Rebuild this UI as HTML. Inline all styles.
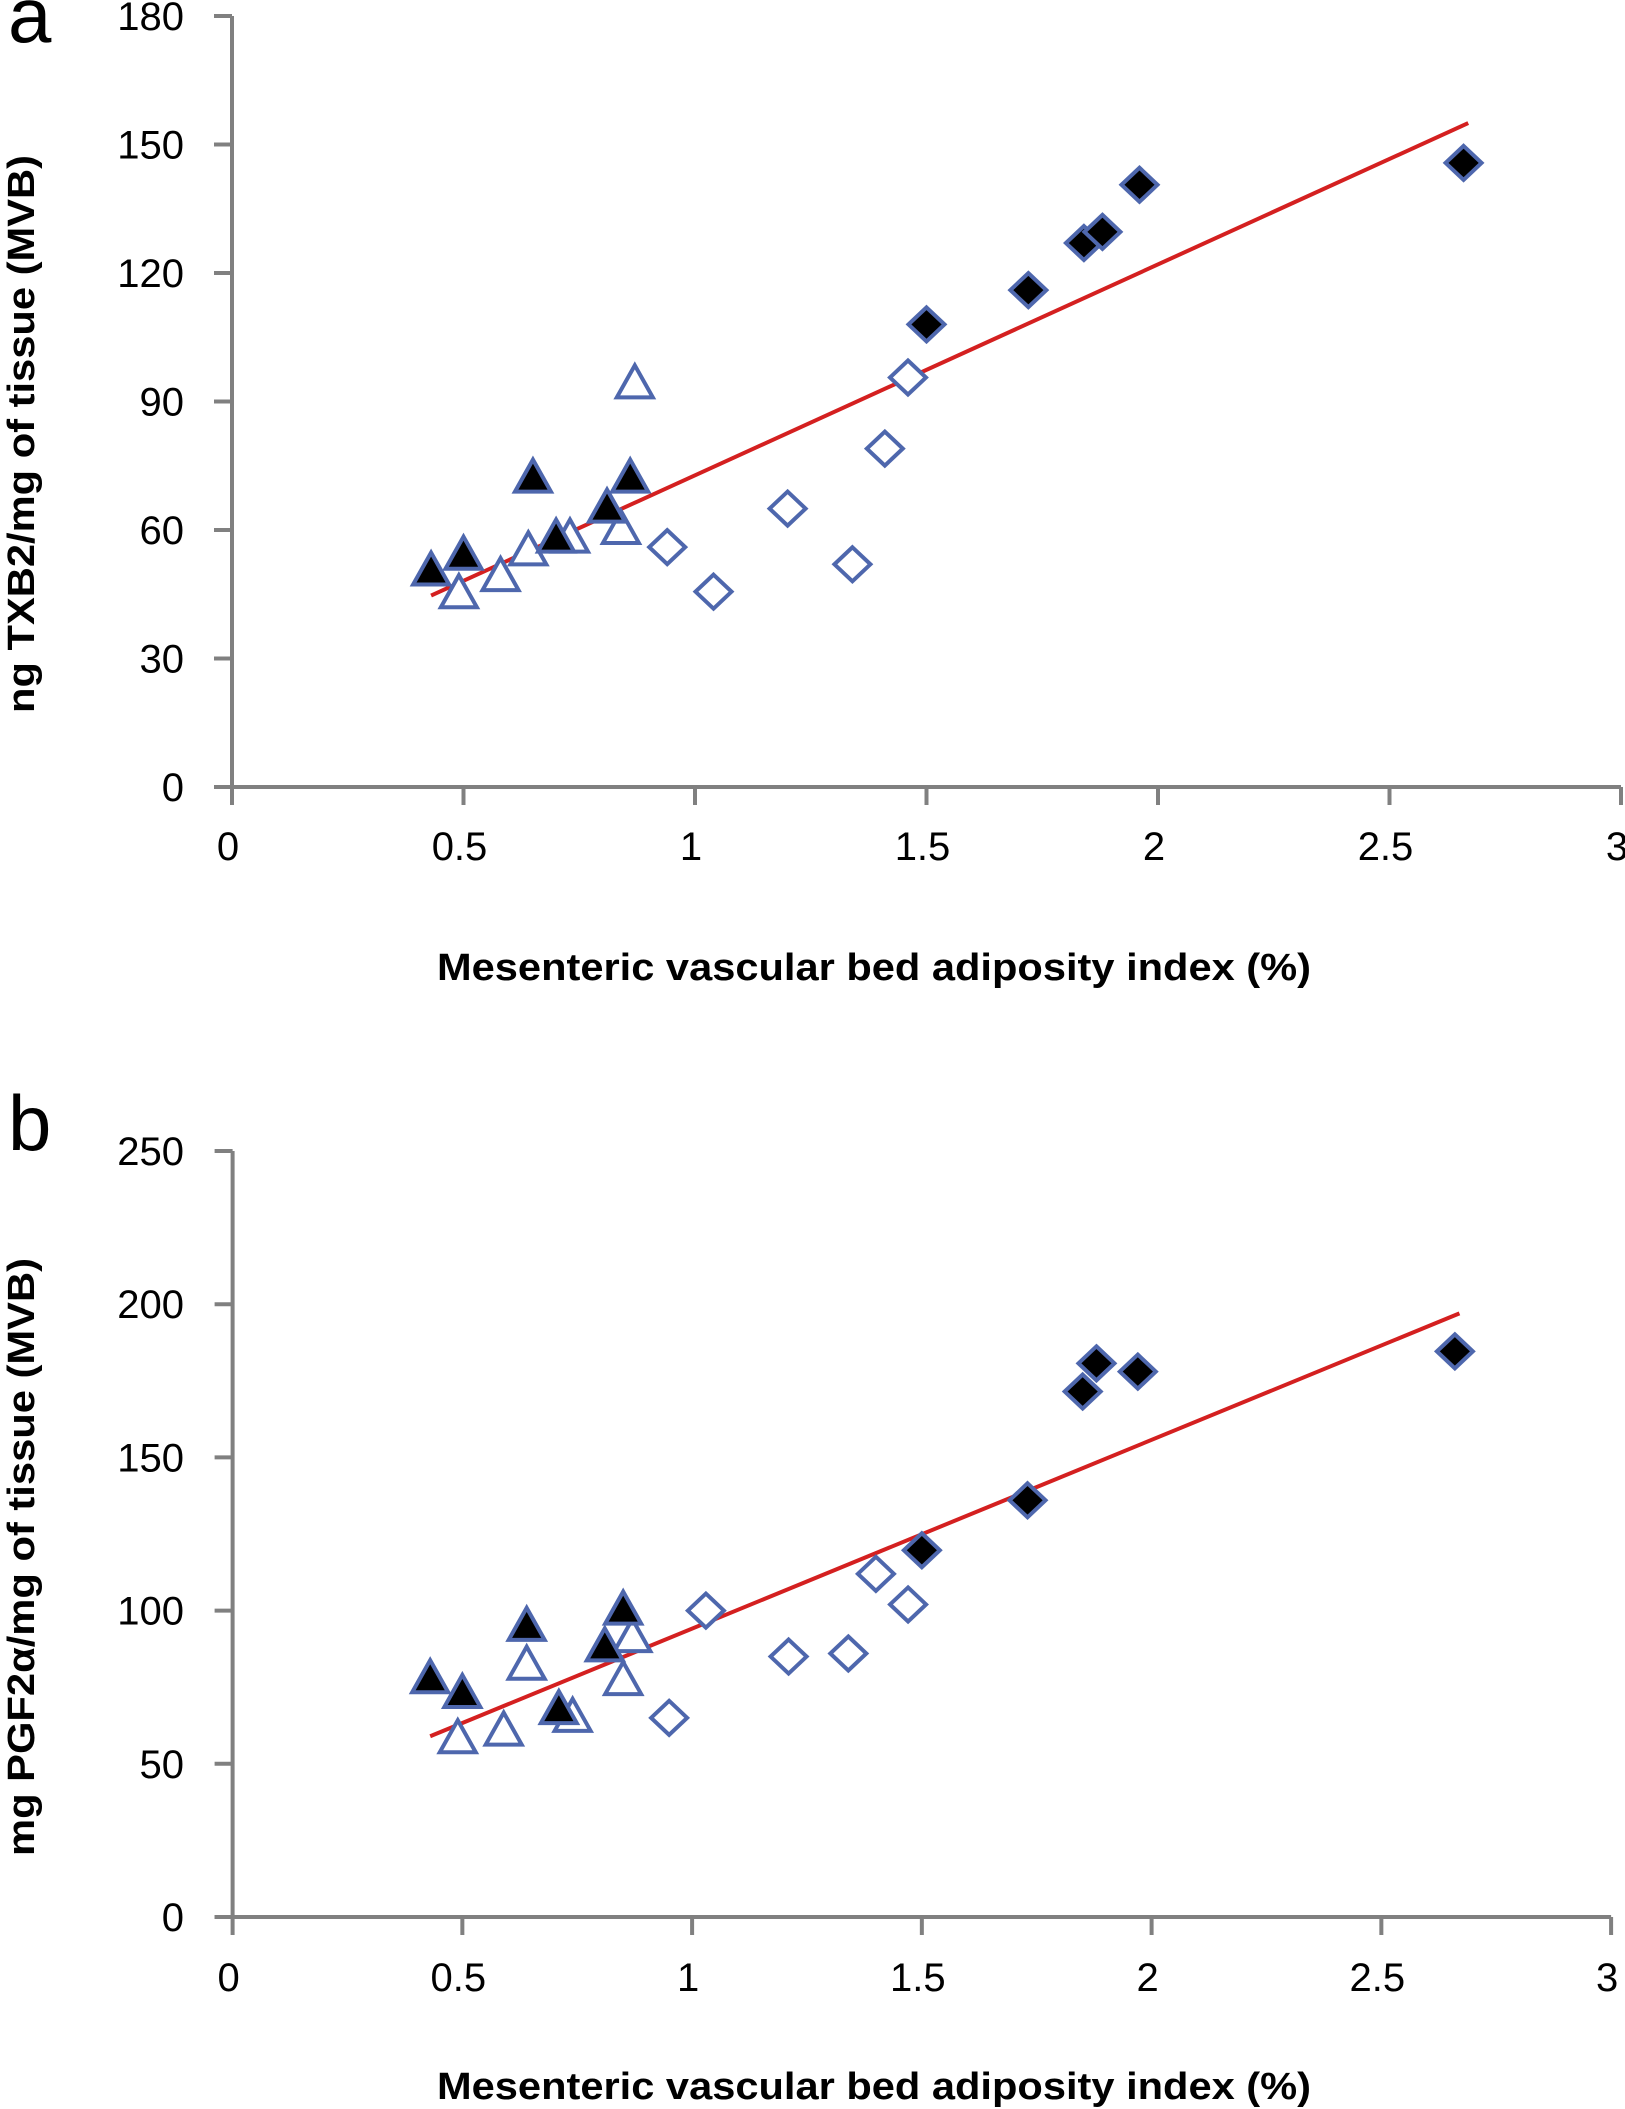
<!DOCTYPE html>
<html><head><meta charset="utf-8"><style>
html,body{margin:0;padding:0;background:#fff}
svg{display:block}
text{font-family:"Liberation Sans",sans-serif}
</style></head><body>
<svg id="chart" width="1625" height="2109" viewBox="0 0 1625 2109" xmlns="http://www.w3.org/2000/svg"></svg>
<script>
// Panel a data
const aFilledTriX=[0.43,0.50,0.65,0.70,0.81,0.86];
const aFilledTriY=[50.3,54,72,58,65,72];
const aOpenTriX=[0.49,0.58,0.64,0.73,0.84,0.87];
const aOpenTriY=[45,49,55,58,60,94];
const aOpenDiaX=[0.94,1.04,1.20,1.34,1.41,1.46];
const aOpenDiaY=[56,45.6,65,52,79,95.6];
const aFilledDiaX=[1.50,1.72,1.84,1.88,1.96,2.66];
const aFilledDiaY=[108,116,127,129.6,140.6,145.7];
const aTrendX=[0.43,2.67];
const aTrendY=[44.7,155];
const aYTicks=[0,30,60,90,120,150,180];
// Panel b data
const bFilledTriX=[0.43,0.50,0.64,0.71,0.81,0.85];
const bFilledTriY=[77.6,72.8,94.7,67.5,88,100];
const bOpenTriX=[0.49,0.59,0.64,0.74,0.85,0.87];
const bOpenTriY=[58,60.5,82,65,77,91];
const bOpenDiaX=[0.95,1.03,1.21,1.34,1.40,1.47];
const bOpenDiaY=[65,100,85,86,112,102];
const bFilledDiaX=[1.50,1.73,1.85,1.88,1.97,2.66];
const bFilledDiaY=[119.7,136,171.5,180.7,178,184.6];
const bTrendX=[0.43,2.67];
const bTrendY=[59,197];
const bYTicks=[0,50,100,150,200,250];
const xTicks=[0,0.5,1,1.5,2,2.5,3];
const xTickLabels=["0","0.5","1","1.5","2","2.5","3"];

const NS="http://www.w3.org/2000/svg";
const svg=document.getElementById('chart');
function mk(tag,attrs,parent){const e=document.createElementNS(NS,tag);for(const k in attrs)e.setAttribute(k,attrs[k]);(parent||svg).appendChild(e);return e;}
const BLUE="#4e67ad", GRAY="#808080";

function panel(cfg){
  const g=mk('g',{});
  
  
  const sx=v=>cfg.x0+v*cfg.xUnit;
  const sy=v=>cfg.y0-(v/cfg.yMax)*(cfg.y0-cfg.yTop);
  // axes
  const ya=mk('line',{x1:sx(0),y1:sy(cfg.yMax),x2:sx(0),y2:sy(0),stroke:GRAY,'stroke-width':4},g);
  
  
  const xa=mk('line',{x1:sx(0)-18,y1:sy(0),x2:sx(3),y2:sy(0),stroke:GRAY,'stroke-width':4},g);
  
  
  cfg.yTicks.forEach(t=>{
    mk('line',{x1:sx(0)-18,y1:sy(t),x2:sx(0),y2:sy(t),stroke:GRAY,'stroke-width':4},g);
    const tx=mk('text',{x:184,y:sy(t)+14,'text-anchor':'end','font-size':40,fill:'#000'},g);
    tx.textContent=String(t);
    
    
  });
  xTicks.forEach((t,i)=>{
    mk('line',{x1:sx(t),y1:sy(0),x2:sx(t),y2:sy(0)+18,stroke:GRAY,'stroke-width':4},g);
    const tx=mk('text',{x:sx(t)-4,y:cfg.xLabelY,'text-anchor':'middle','font-size':40,fill:'#000'},g);
    tx.textContent=xTickLabels[i];
    
    
  });
  // trend
  const tl=mk('line',{x1:sx(cfg.trendX[0]),y1:sy(cfg.trendY[0]),x2:sx(cfg.trendX[1]),y2:sy(cfg.trendY[1]),stroke:'#d42020','stroke-width':4},g);
  
  
  function tri(xs,ys,fill,name){xs.forEach((x,i)=>{const cx=sx(x),cy=sy(ys[i]);
    const p=mk('polygon',{points:`${cx},${cy-19} ${cx+18},${cy+13} ${cx-18},${cy+13}`,fill:fill,stroke:BLUE,'stroke-width':4,'stroke-linejoin':'miter'},g);
    
    });}
  function dia(xs,ys,fill,name){xs.forEach((x,i)=>{const cx=sx(x),cy=sy(ys[i]);
    const p=mk('polygon',{points:`${cx},${cy-17} ${cx+18},${cy} ${cx},${cy+17} ${cx-18},${cy}`,fill:fill,stroke:BLUE,'stroke-width':4},g);
    
    });}
  dia(cfg.od[0],cfg.od[1],'#fff','open-diamond-point');
  dia(cfg.fd[0],cfg.fd[1],'#000','filled-diamond-point');
  tri(cfg.ot[0],cfg.ot[1],'#fff','open-triangle-point');
  tri(cfg.ft[0],cfg.ft[1],'#000','filled-triangle-point');
  // re-draw trend on top partially like Excel? keep below markers except line drawn after diamonds
  const t2=mk('text',{x:874,y:cfg.xTitleY,'text-anchor':'middle','font-size':38,'font-weight':'bold',fill:'#000',textLength:874,lengthAdjust:'spacingAndGlyphs'},g);
  t2.textContent='Mesenteric vascular bed adiposity index (%)';
  
  
  const yt=mk('text',{x:0,y:0,'text-anchor':'middle','font-size':38,'font-weight':'bold',fill:'#000',textLength:cfg.yTitleLen,lengthAdjust:'spacingAndGlyphs',transform:`translate(34,${cfg.yTitleC}) rotate(-90)`},g);
  yt.textContent=cfg.yTitle;
  
  
  const pl=mk('text',{x:8,y:cfg.letterY,'font-size':78,fill:'#000'},g);
  pl.textContent=cfg.id;
  
  
}
panel({id:'a',x0:232,xUnit:463,y0:787,yTop:16,yMax:180,yTicks:aYTicks,xLabelY:860,xTitleY:980,
  trendX:aTrendX,trendY:aTrendY,ft:[aFilledTriX,aFilledTriY],ot:[aOpenTriX,aOpenTriY],od:[aOpenDiaX,aOpenDiaY],fd:[aFilledDiaX,aFilledDiaY],
  yTitle:'ng TXB2/mg of tissue (MVB)',yTitleC:434,yTitleLen:558,letterY:42});
panel({id:'b',x0:232.6,xUnit:459.5,y0:1917,yTop:1151,yMax:250,yTicks:bYTicks,xLabelY:1991,xTitleY:2099,
  trendX:bTrendX,trendY:bTrendY,ft:[bFilledTriX,bFilledTriY],ot:[bOpenTriX,bOpenTriY],od:[bOpenDiaX,bOpenDiaY],fd:[bFilledDiaX,bFilledDiaY],
  yTitle:'mg PGF2α/mg of tissue (MVB)',yTitleC:1557,yTitleLen:598,letterY:1150});
</script>
</body></html>
